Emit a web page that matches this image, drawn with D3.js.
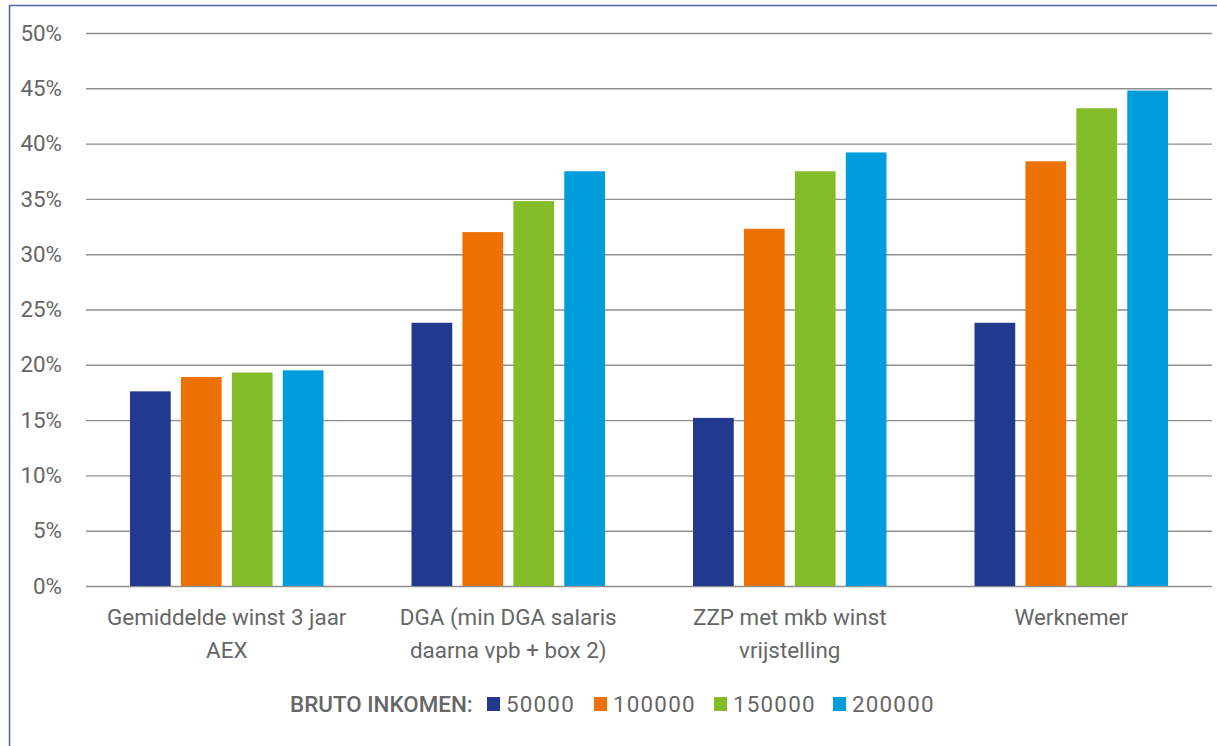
<!DOCTYPE html>
<html>
<head>
<meta charset="utf-8">
<script src="https://cdn.jsdelivr.net/npm/d3@7"></script>
<style>
  html, body { margin: 0; padding: 0; background: #fff; }
  svg { display: block; font-family: Roboto, "Open Sans", sans-serif; }
</style>
</head>
<body>
<div id="chart"></div>
<script>
const categories = [
  ["Gemiddelde winst 3 jaar", "AEX"],
  ["DGA (min DGA salaris", "daarna vpb + box 2)"],
  ["ZZP met mkb winst", "vrijstelling"],
  ["Werknemer"]
];
const seriesNames = ["50000", "100000", "150000", "200000"];
const seriesColors = ["#21398f", "#ee7203", "#84bb29", "#009ddc"];
const values50k = [17.6, 23.8, 15.2, 23.8];
const values100k = [18.9, 32.0, 32.3, 38.4];
const values150k = [19.3, 34.8, 37.5, 43.2];
const values200k = [19.5, 37.5, 39.2, 44.8];
const yTicks = [0, 5, 10, 15, 20, 25, 30, 35, 40, 45, 50];
const legendTitle = "BRUTO INKOMEN:";

const allValues = [values50k, values100k, values150k, values200k];
const width = 1217, height = 746;
const margin = { top: 33, right: 5, bottom: 160, left: 86 };
const fontSize = 22.4;

const svg = d3.select("#chart").append("svg")
  .attr("width", width).attr("height", height);

// frame
svg.append("path")
  .attr("d", `M9.5,${height + 5} V5.5 H${width + 5}`)
  .attr("fill", "none").attr("stroke", "#4d62aa").attr("stroke-width", 1.5);

const keys = categories.map((d, i) => "c" + i);
const x = d3.scaleBand().domain(keys).range([margin.left, width - margin.right]);
const inner = d3.scaleBand().domain(seriesNames)
  .range([44, x.bandwidth() - 44]).paddingInner(0.2);
const y = d3.scaleLinear().domain([0, 50]).range([height - margin.bottom, margin.top]);

// gridlines + tick labels
svg.append("g")
  .attr("transform", `translate(${margin.left},0)`)
  .call(d3.axisLeft(y).tickValues(yTicks).tickFormat(d => d + "%")
    .tickSize(-(width - margin.right - margin.left)).tickPadding(24))
  .call(g => g.select(".domain").remove())
  .call(g => g.selectAll(".tick line").attr("stroke", "#8f8f8f").attr("stroke-width", 1.4))
  .call(g => g.selectAll(".tick text")
    .attr("fill", "#666").attr("font-size", fontSize).attr("font-family", "Roboto, sans-serif"));

// bars
const groups = svg.append("g").selectAll("g")
  .data(keys).join("g")
  .attr("transform", d => `translate(${x(d)},0)`);

groups.selectAll("rect")
  .data((d, ci) => seriesNames.map((s, si) => ({ s, si, v: allValues[si][ci] })))
  .join("rect")
  .attr("x", d => inner(d.s))
  .attr("width", inner.bandwidth())
  .attr("y", d => y(d.v))
  .attr("height", d => y(0) - y(d.v))
  .attr("fill", d => seriesColors[d.si]);

// category labels
const labels = svg.append("g").selectAll("text")
  .data(categories).join("text")
  .attr("x", (d, i) => x(keys[i]) + x.bandwidth() / 2)
  .attr("y", 625)
  .attr("text-anchor", "middle")
  .attr("fill", "#666").attr("font-size", fontSize);
labels.selectAll("tspan")
  .data(d => d).join("tspan")
  .attr("x", function () { return this.parentNode.getAttribute("x"); })
  .attr("dy", (d, i) => i === 0 ? 0 : 33)
  .text(d => d);

// legend
const legend = svg.append("g").attr("transform", "translate(0,704)");
legend.append("text")
  .attr("x", 290).attr("y", 8)
  .attr("fill", "#666").attr("font-size", fontSize).attr("font-weight", 500)
  .text(legendTitle);
const legendX = [487, 594, 714, 833];
const items = legend.selectAll("g.item")
  .data(seriesNames).join("g").attr("class", "item")
  .attr("transform", (d, i) => `translate(${legendX[i]},0)`);
items.append("rect")
  .attr("x", 0).attr("y", -7).attr("width", 13).attr("height", 14)
  .attr("fill", (d, i) => seriesColors[i]);
items.append("text")
  .attr("x", 19).attr("y", 8)
  .attr("fill", "#666").attr("font-size", fontSize)
  .attr("letter-spacing", 1.2)
  .text(d => d);
</script>
</body>
</html>
